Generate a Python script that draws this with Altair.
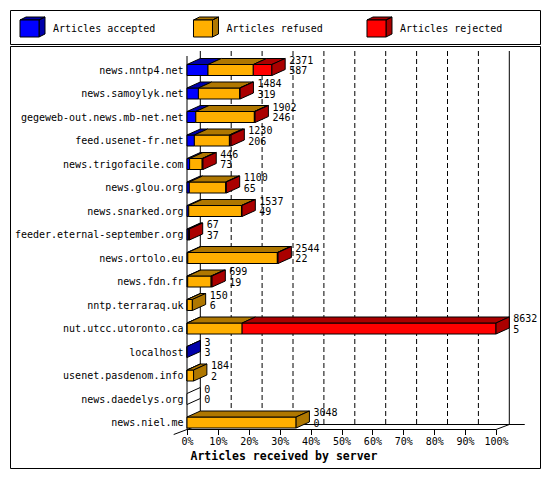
import altair as alt
import pandas as pd

# ---------------- data ----------------
servers = [
    "news.nntp4.net", "news.samoylyk.net", "gegeweb-out.news.mb-net.net",
    "feed.usenet-fr.net", "news.trigofacile.com", "news.glou.org",
    "news.snarked.org", "feeder.eternal-september.org", "news.ortolo.eu",
    "news.fdn.fr", "nntp.terraraq.uk", "nut.utcc.utoronto.ca", "localhost",
    "usenet.pasdenom.info", "news.daedelys.org", "news.niel.me",
]
offered = [2371, 1484, 1902, 1230, 446, 1100, 1537, 67, 2544, 699, 150, 8632, 3, 184, 0, 3048]
accepted = [587, 319, 246, 206, 73, 65, 49, 37, 22, 19, 6, 5, 3, 2, 0, 0]
refused = [1265, 1153, 1636, 979, 351, 1015, 1473, 0, 2502, 655, 144, 1535, 0, 182, 0, 3048]
rejected = [519, 12, 20, 45, 22, 20, 15, 30, 20, 25, 0, 7092, 0, 0, 0, 0]

legend_labels = ["Articles accepted", "Articles refused", "Articles rejected"]
front_colors = ["#0000FF", "#FFAF00", "#FF0000"]
side_colors = ["#0000AA", "#AF7700", "#AA0000"]
x_ticks = [0, 10, 20, 30, 40, 50, 60, 70, 80, 90, 100]
x_title = "Articles received by server"

MONO = "DejaVu Sans Mono"

# ---------------- geometry (style constants) ----------------
W, H, LEG_H = 530, 422, 34
PX_PER_PCT = 3.09
X0_PX = 177
ROW = 23.5
ROW0_PX = 24
DX = 13.3 / PX_PER_PCT          # depth in % units
DY = 6 / ROW                    # bar depth in row units
HALF = 5.5 / ROW                # half height of the front face
FLOOR_DY = 5 / ROW
FLOOR = 15 + 7 / ROW
BACK_FLOOR = FLOOR - FLOOR_DY
BACK_TOP = (5 - ROW0_PX) / ROW
FRONT_TOP = (10 - ROW0_PX) / ROW

xs = alt.Scale(domain=[-X0_PX / PX_PER_PCT, (W - X0_PX) / PX_PER_PCT], nice=False, zero=False)
ys = alt.Scale(domain=[-ROW0_PX / ROW, (H - ROW0_PX) / ROW], nice=False, zero=False, reverse=True)

label_expr = "[" + ",".join("'" + s + "'" for s in servers) + "][datum.value]"

xaxis = alt.Axis(values=x_ticks, labelExpr="datum.value + '%'", domain=False, grid=False,
                 ticks=True, tickSize=5, tickColor="black", labelFont=MONO, labelFontSize=10,
                 labelColor="black", labelPadding=2, labelOverlap=False, labelFlush=False,
                 offset=FLOOR * ROW + ROW0_PX - H,
                 titleFont=MONO, titleFontSize=11.5, titleFontWeight="bold", titleColor="black",
                 titleX=180, titleY=27, titleAlign="left", titleBaseline="middle")
yaxis = alt.Axis(values=list(range(len(servers))), labelExpr=label_expr, domain=False,
                 ticks=False, tickSize=0, grid=False, labelFont=MONO, labelFontSize=10,
                 labelColor="black", labelPadding=2, labelOverlap=False, labelLimit=400,
                 labelBaseline="middle", offset=-175)


def X(f):
    return alt.X(f, type="quantitative", scale=xs, axis=xaxis, title=x_title, stack=None)


def Y(f):
    return alt.Y(f, type="quantitative", scale=ys, axis=yaxis, title=None, stack=None)


mx = max(offered)
front, top, side, nums = [], [], [], []
for i, name in enumerate(servers):
    vals = [accepted[i], refused[i], rejected[i]]
    s = 0.0
    last = None
    for k, v in enumerate(vals):
        if v <= 0:
            continue
        a = s / mx * 100
        b = (s + v) / mx * 100
        front.append(dict(x=a, x2=b, y=i - HALF, y2=i + HALF, fill=front_colors[k]))
        sid = f"{i}-{k}"
        top.append(dict(sid=sid, y=i - HALF, x=a, x2=b, fill=side_colors[k]))
        top.append(dict(sid=sid, y=i - HALF - DY, x=a + DX, x2=b + DX, fill=side_colors[k]))
        s += v
        last = k
    E = offered[i] / mx * 100
    sc = side_colors[last] if last is not None else "#FFFFFF"
    side.append(dict(sid=str(i), x=E, y=i - HALF, y2=i + HALF, fill=sc))
    side.append(dict(sid=str(i), x=E + DX, y=i - HALF - DY, y2=i + HALF - DY, fill=sc))
    nums.append(dict(x=E + DX, y=i - 9.5 / ROW, t=str(offered[i])))
    nums.append(dict(x=E + DX, y=i + 1.0 / ROW, t=str(accepted[i])))

solid = [
    dict(x=0, x2=0, y=FRONT_TOP, y2=FLOOR),
    dict(x=DX, x2=DX, y=BACK_TOP, y2=BACK_FLOOR),
    dict(x=100 + DX, x2=100 + DX, y=BACK_TOP, y2=BACK_FLOOR),
    dict(x=0, x2=100, y=FLOOR, y2=FLOOR),
    dict(x=DX, x2=100 + DX + 5, y=BACK_FLOOR, y2=BACK_FLOOR),
    dict(x=100, x2=100 + DX, y=FLOOR, y2=BACK_FLOOR),
    dict(x=-DX, x2=DX, y=FLOOR + FLOOR_DY, y2=BACK_FLOOR),
]
dashed = [dict(x=t + DX, x2=t + DX, y=BACK_TOP, y2=BACK_FLOOR) for t in x_ticks[1:-1]]

base_rule = dict(color="black", strokeWidth=1)
l_solid = alt.Chart(pd.DataFrame(solid)).mark_rule(**base_rule).encode(
    x=X("x"), x2="x2", y=Y("y"), y2="y2")
l_dash = alt.Chart(pd.DataFrame(dashed)).mark_rule(strokeDash=[5, 3], **base_rule).encode(
    x=X("x"), x2="x2", y=Y("y"), y2="y2")
l_front = alt.Chart(pd.DataFrame(front)).mark_rect(stroke="black", strokeWidth=1).encode(
    x=X("x"), x2="x2", y=Y("y"), y2="y2", fill=alt.Fill("fill:N", scale=None))
l_top = alt.Chart(pd.DataFrame(top)).mark_area(orient="horizontal", stroke="black", strokeWidth=1,
                                               opacity=1).encode(
    y=Y("y"), x=X("x"), x2="x2", detail="sid:N", fill=alt.Fill("fill:N", scale=None))
l_side = alt.Chart(pd.DataFrame(side)).mark_area(orient="vertical", stroke="black", strokeWidth=1,
                                                 opacity=1).encode(
    x=X("x"), y=Y("y"), y2="y2", detail="sid:N", fill=alt.Fill("fill:N", scale=None))
l_nums = alt.Chart(pd.DataFrame(nums)).mark_text(align="left", baseline="middle", dx=4, font=MONO,
                                                 fontSize=10, color="black").encode(
    x=X("x"), y=Y("y"), text="t:N")

main = alt.layer(l_solid, l_dash, l_front, l_top, l_side, l_nums).properties(width=W, height=H)

# ---------------- legend strip ----------------
leg_df = pd.DataFrame(dict(label=legend_labels, front=front_colors, dark=side_colors))
bx = alt.X("label:N", sort=legend_labels, bandPosition=0, axis=None,
           scale=alt.Scale(type="band", paddingInner=0, paddingOuter=0.0274, align=0))
DARK_PATH = ("M-1,-0.56L-0.52,-0.8L1,-0.8L0.52,-0.56Z "
             "M0.52,-0.56L1,-0.8L1,0.56L0.52,0.8Z")
FRONT_PATH = "M-1,-0.56L0.52,-0.56L0.52,0.8L-1,0.8Z"
cube_dark = alt.Chart(leg_df).mark_point(shape=DARK_PATH, size=625, filled=True, opacity=1,
                                         stroke="black", strokeWidth=1, xOffset=22.5).encode(
    x=bx, fill=alt.Fill("dark:N", scale=None))
cube_front = alt.Chart(leg_df).mark_point(shape=FRONT_PATH, size=625, filled=True, opacity=1,
                                          stroke="black", strokeWidth=1, xOffset=22.5).encode(
    x=bx, fill=alt.Fill("front:N", scale=None))
leg_text = alt.Chart(leg_df).mark_text(align="left", baseline="middle", dx=43, dy=2, font=MONO,
                                       fontSize=10, color="black").encode(x=bx, text="label:N")
legend = alt.layer(cube_dark, cube_front, leg_text).properties(width=W, height=LEG_H)

chart = alt.vconcat(legend, main, spacing=0).properties(
    padding={"left": 1, "top": 1, "right": 1, "bottom": 1},
    background="white",
).configure_view(stroke="black", strokeWidth=1)

chart.save("out.html", embed_options={"renderer": "svg", "actions": False})
